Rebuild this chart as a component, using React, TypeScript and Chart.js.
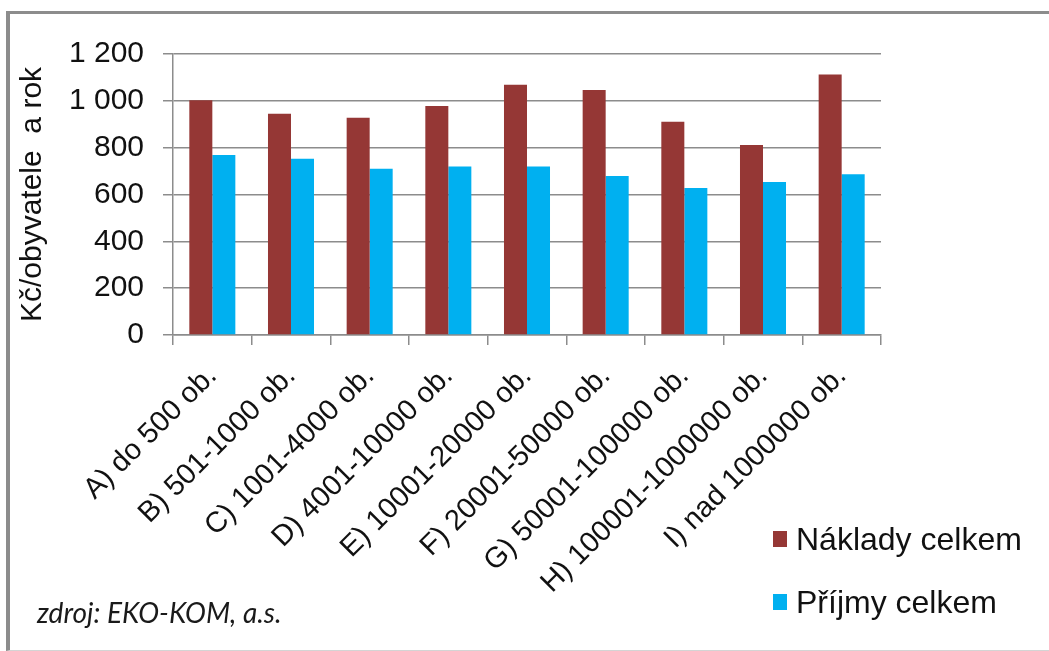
import React, { useEffect, useRef } from "react";
import { Chart, registerables } from "chart.js";

Chart.register(...registerables);

const categories = [
  "A) do 500 ob.",
  "B) 501-1000 ob.",
  "C) 1001-4000 ob.",
  "D) 4001-10000 ob.",
  "E) 10001-20000 ob.",
  "F) 20001-50000 ob.",
  "G) 50001-100000 ob.",
  "H) 100001-1000000 ob.",
  "I) nad 1000000 ob.",
];
const nakladyCelkem = [1003, 945, 928, 978, 1069, 1046, 911, 811, 1112];
const prijmyCelkem = [769, 753, 710, 720, 720, 679, 628, 653, 686];
const seriesNames = ["Náklady celkem", "Příjmy celkem"];
const seriesColors = ["#953735", "#00B0F0"];
const yTitle = "Kč/obyvatele  a rok";
const sourceNote = "zdroj: EKO-KOM, a.s.";

const FONT = "'Liberation Sans', Arial, sans-serif";
const GRID = "#8c8c8c";

export default function App() {
  const ref = useRef<HTMLCanvasElement | null>(null);

  useEffect(() => {
    if (!ref.current) return;
    const chart = new Chart(ref.current, {
      type: "bar",
      data: {
        labels: categories,
        datasets: [
          {
            label: seriesNames[0],
            data: nakladyCelkem,
            backgroundColor: seriesColors[0],
            categoryPercentage: 0.585,
            barPercentage: 1,
          },
          {
            label: seriesNames[1],
            data: prijmyCelkem,
            backgroundColor: seriesColors[1],
            categoryPercentage: 0.585,
            barPercentage: 1,
          },
        ],
      },
      options: {
        animation: false,
        responsive: false,
        devicePixelRatio: 1,
        layout: { padding: { top: 54, right: 168, bottom: 0, left: 0 } },
        plugins: {
          legend: { display: false },
          tooltip: { enabled: false },
        },
        scales: {
          x: {
            offset: true,
            grid: {
              display: true,
              drawOnChartArea: false,
              drawTicks: true,
              tickLength: 10,
              color: GRID,
              lineWidth: 1.5,
              offset: true,
            },
            border: { display: true, color: GRID, width: 1.5 },
            ticks: {
              maxRotation: 45,
              minRotation: 45,
              autoSkip: false,
              padding: 14,
              color: "#111",
              font: { family: FONT, size: 29 },
            },
            afterFit: (s: any) => {
              s.height = 651 - 335;
            },
          },
          y: {
            min: 0,
            max: 1200,
            ticks: {
              stepSize: 200,
              padding: 19,
              color: "#111",
              font: { family: FONT, size: 30 },
              callback: (v: any) =>
                String(v).replace(/\B(?=(\d{3})+(?!\d))/g, " "),
            },
            grid: {
              color: GRID,
              lineWidth: 1.5,
              tickLength: 10,
              drawTicks: true,
            },
            border: { display: true, color: GRID, width: 1.5 },
            title: {
              display: true,
              text: yTitle,
              color: "#111",
              font: { family: FONT, size: 30 },
              padding: { top: 15, bottom: 0 },
            },
            afterFit: (s: any) => {
              s.width = 173;
            },
          },
        },
      },
    });
    return () => chart.destroy();
  }, []);

  const legendText: React.CSSProperties = {
    position: "absolute",
    left: 796,
    fontFamily: FONT,
    fontSize: 32,
    color: "#111",
    lineHeight: "36px",
    whiteSpace: "nowrap",
  };

  return (
    <div
      style={{
        position: "absolute",
        left: 0,
        top: 0,
        width: 1049,
        height: 651,
        overflow: "hidden",
        background: "#fff",
      }}
    >
      <div
        style={{
          position: "absolute",
          left: 6,
          top: 11,
          width: 1100,
          height: 636,
          borderTop: "3px solid #8c8c8c",
          borderLeft: "4px solid #8c8c8c",
          borderBottom: "1px solid #d4d4d4",
        }}
      />
      <canvas
        ref={ref}
        width={1049}
        height={651}
        style={{ position: "absolute", left: 0, top: 0, width: 1049, height: 651 }}
      />
      <div
        style={{
          position: "absolute",
          left: 773,
          top: 531,
          width: 14,
          height: 16,
          background: seriesColors[0],
        }}
      />
      <div style={{ ...legendText, top: 521 }}>{seriesNames[0]}</div>
      <div
        style={{
          position: "absolute",
          left: 773,
          top: 594,
          width: 14,
          height: 16,
          background: seriesColors[1],
        }}
      />
      <div style={{ ...legendText, top: 584 }}>{seriesNames[1]}</div>
      <div
        style={{
          position: "absolute",
          left: 37,
          top: 596,
          fontFamily: "Lato, 'Open Sans', sans-serif",
          fontStyle: "italic",
          fontSize: 28,
          lineHeight: "32px",
          color: "#1a1a1a",
          whiteSpace: "nowrap",
        }}
      >
        {sourceNote}
      </div>
    </div>
  );
}
